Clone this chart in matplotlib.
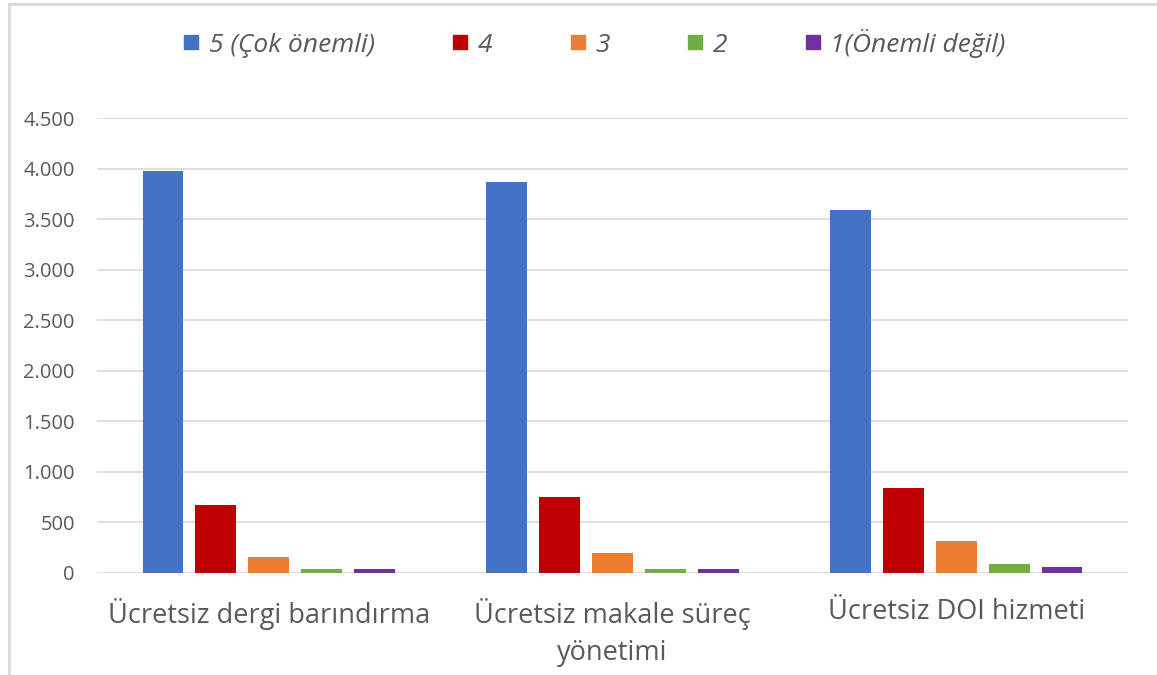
import matplotlib
matplotlib.use("Agg")
import matplotlib.pyplot as plt
import numpy as np
from matplotlib.lines import Line2D

categories = ["Ücretsiz dergi barındırma", "Ücretsiz makale süreç\nyönetimi", "Ücretsiz DOI hizmeti"]
series_names = ["5 (Çok önemli)", "4", "3", "2", "1(Önemli değil)"]
colors = ["#4472C4", "#C00000", "#ED7D31", "#70AD47", "#7030A0"]
v5 = [3980, 3865, 3590]
v4 = [670, 750, 840]
v3 = [160, 198, 315]
v2 = [40, 42, 92]
v1 = [40, 36, 56]
values = [v5, v4, v3, v2, v1]
yticks = [0, 500, 1000, 1500, 2000, 2500, 3000, 3500, 4000, 4500]
ytick_labels = ["0", "500", "1.000", "1.500", "2.000", "2.500", "3.000", "3.500", "4.000", "4.500"]

plt.rcParams['font.family'] = ['Open Sans', 'DejaVu Sans']
fig = plt.figure(figsize=(11.57, 6.75), dpi=100)
ax = fig.add_axes([97/1157, 1-573/675, (1128-97)/1157, (573-118)/675])

x = np.arange(len(categories))
pitch = 0.154
width = 0.119
for i, (name, vals, c) in enumerate(zip(series_names, values, colors)):
    ax.bar(x + (i - 2) * pitch, vals, width=width, color=c, label=name, zorder=3)

ax.set_xlim(-0.5, 2.5)
ax.set_ylim(0, 4500)
ax.set_yticks(yticks)
ax.set_yticklabels(ytick_labels, fontsize=14.5, color="#595959")
ax.set_xticks(x)
ax.set_xticklabels(categories, fontsize=19.5, color="#595959", linespacing=1.45)
ax.tick_params(axis='both', length=0)
ax.tick_params(axis='y', pad=16)
ax.tick_params(axis='x', pad=18)
ax.grid(axis='y', color="#D9D9D9", linewidth=1.2, zorder=0)
for s in ax.spines.values():
    s.set_visible(False)

handles = [Line2D([0], [0], marker='s', linestyle='none', markersize=10, markerfacecolor=c, markeredgecolor=c) for c in colors]
leg = fig.legend(handles, series_names, loc='center', bbox_to_anchor=(595/1157, 1-43/675), ncol=5,
                 frameon=False, handlelength=0.55, handletextpad=0.4, columnspacing=2.95,
                 prop={'size': 19, 'style': 'italic'})
for t in leg.get_texts():
    t.set_color("#595959")

# chart area border
fig.add_artist(Line2D([9/1157, 9/1157], [1-4/675, 1-673/675], transform=fig.transFigure, color="#D9D9D9", linewidth=2))
fig.add_artist(Line2D([9/1157, 1.0], [1-4/675, 1-4/675], transform=fig.transFigure, color="#D9D9D9", linewidth=2))

fig.savefig("out.png", dpi=100)
